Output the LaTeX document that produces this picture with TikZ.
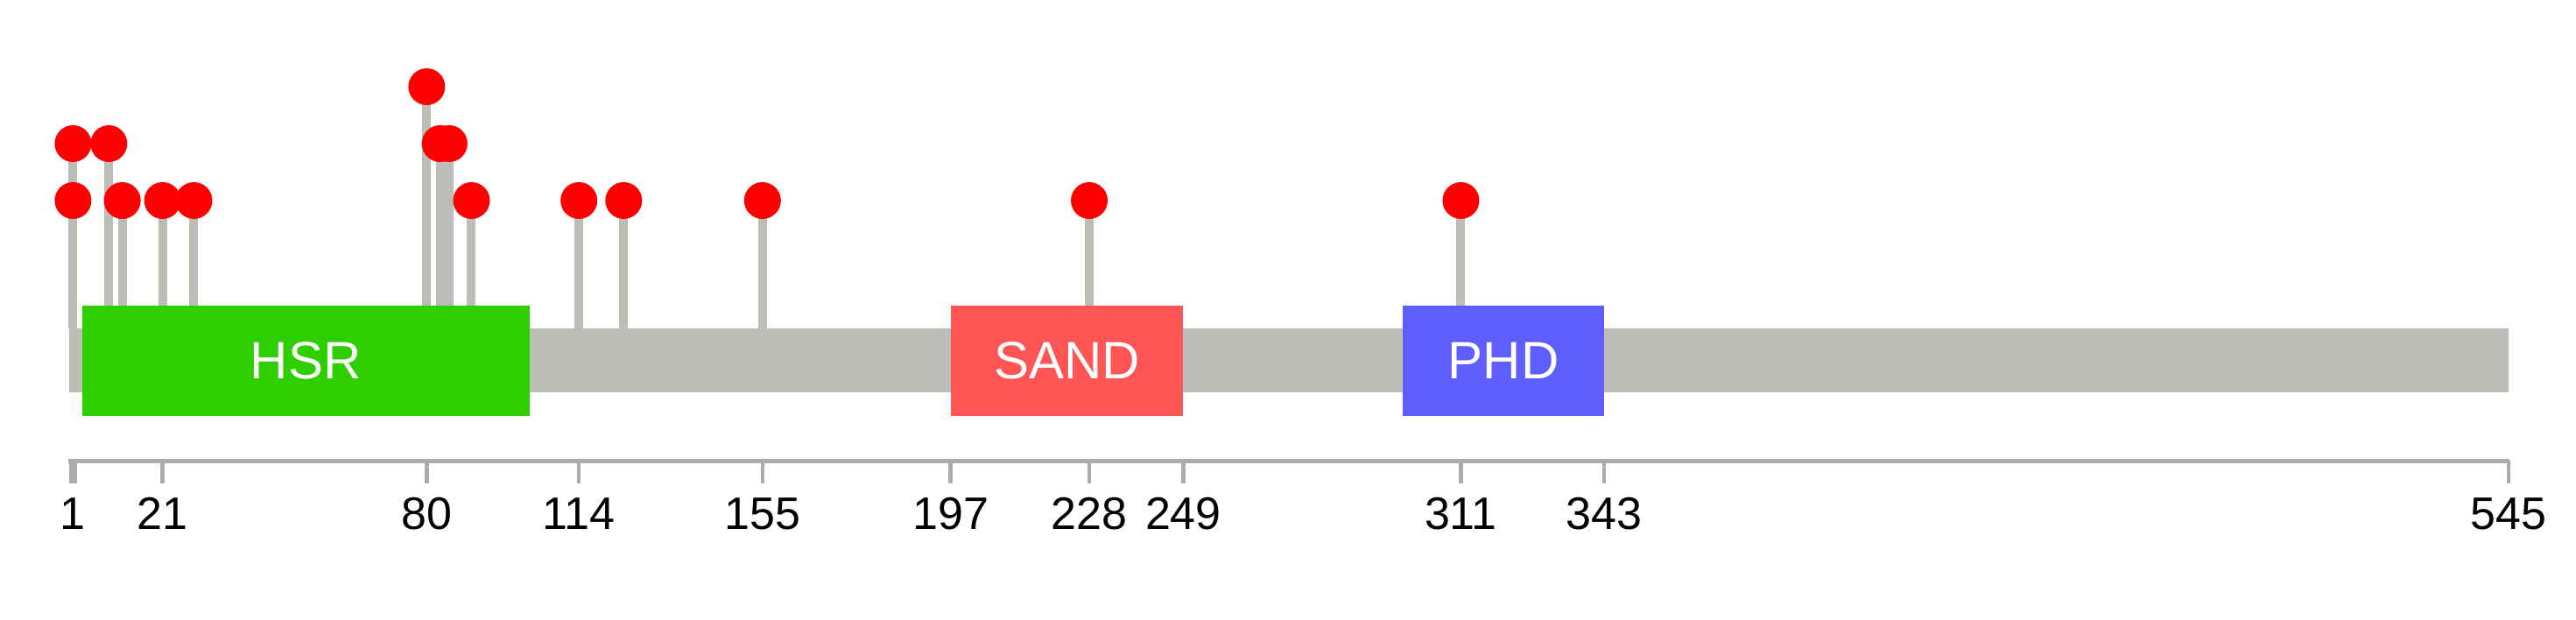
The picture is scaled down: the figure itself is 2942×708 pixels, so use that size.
\documentclass[tikz,border=0pt]{standalone}
\usepackage{fontspec}
\setmainfont{Liberation Sans}
\definecolor{bbgray}{RGB}{187,189,182}
\definecolor{axgray}{RGB}{171,171,171}
\definecolor{hsrgreen}{RGB}{46,206,0}
\definecolor{sandred}{RGB}{255,85,85}
\definecolor{phdblue}{RGB}{95,95,255}
\pgfdeclarelayer{bg}
\pgfsetlayers{bg,main}
\tikzset{
  lolli/.style={circle, fill=red, draw=none, inner sep=0pt, minimum size=42pt},
  stemline/.style={draw=bbgray, line width=10pt},
  domainbox/.style={rectangle, draw=none, inner sep=0pt, minimum height=126pt, text=white, font=\fontsize{60}{72}\selectfont},
  axisline/.style={draw=axgray, line width=5pt},
  tickline/.style={draw=axgray, line width=4.5pt},
  ticklabel/.style={anchor=base, inner sep=0pt, font=\fontsize{52}{62}\selectfont}
}
\begin{document}
\begin{tikzpicture}[x=1pt,y=-1pt]
\useasboundingbox (0,0) rectangle (2942,708);
% lollipops
\foreach \p/\yy [count=\i] in {1/229,1/164,9/164,12/229,21/229,28/229,80/99,83/164,85/164,90/229,114/229,124/229,155/229,228/229,311/229} {
  \coordinate (s\i) at ({78.3+5.113*\p},375);
  \node[lolli] (m\i) at ({78.3+5.113*\p},\yy) {};
  \begin{pgfonlayer}{bg}
    \draw[stemline] (m\i.center) -- (s\i);
  \end{pgfonlayer}
}
% backbone
\node[rectangle, fill=bbgray, draw=none, inner sep=0pt, minimum width=2786.4pt, minimum height=73.6pt] (backbone) at (1471.8,411.5) {};
% domains
\node[domainbox, fill=hsrgreen, minimum width=511.3pt] (hsr) at ({78.3+5.113*53},412) {HSR};
\node[domainbox, fill=sandred, minimum width=265.9pt] (sand) at ({78.3+5.113*223},412) {SAND};
\node[domainbox, fill=phdblue, minimum width=230.1pt] (phd) at ({78.3+5.113*320.5},412) {PHD};
% axis
\coordinate (axL) at (78,526);
\coordinate (axR) at (2866,526);
\draw[axisline] (axL) -- (axR);
\foreach \p [count=\j] in {1,21,80,114,155,197,228,249,311,343,545} {
  \coordinate (t\j) at ({78.3+5.113*\p},526);
  \coordinate (b\j) at ({78.3+5.113*\p},552);
  \draw[tickline] (t\j) -- (b\j);
  \node[ticklabel] (l\j) at ({78.3+5.113*\p},604) {\p};
}
\draw[axgray, line width=9pt] (t1) -- (b1);
\end{tikzpicture}
\end{document}
